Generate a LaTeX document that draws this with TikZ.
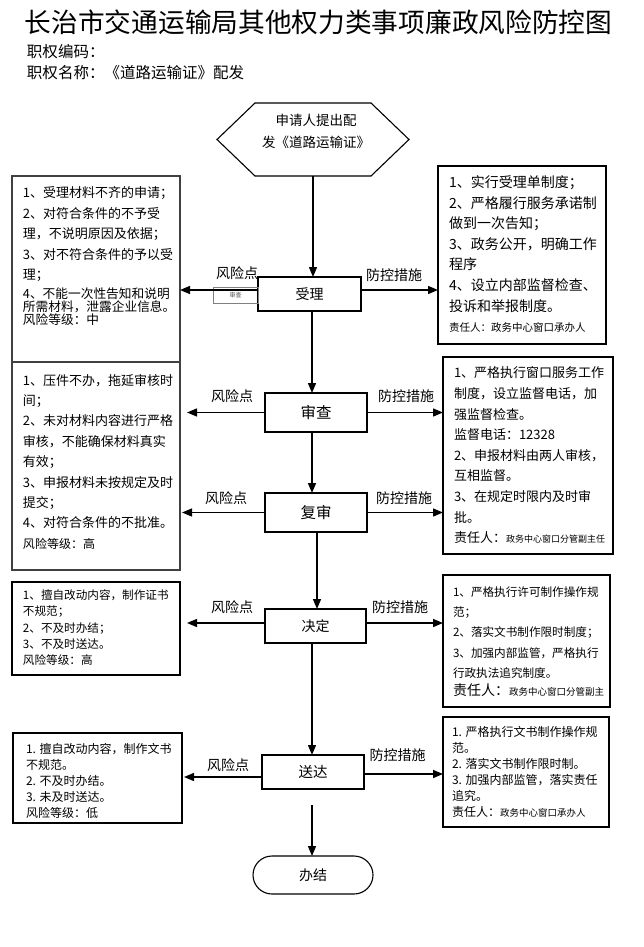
\documentclass[tikz,border=0pt]{standalone}
\usepackage{fontspec}
\setmainfont{Noto Sans CJK SC}
\usetikzlibrary{arrows.meta}
\newcommand{\myfs}[2]{\fontsize{#1}{#2}\selectfont\lineskiplimit=-100pt\relax}
\tikzset{
  every node/.style={inner sep=0pt, outer sep=0pt},
  proc/.style={draw, line width=1.1pt, rectangle},
  infobox/.style={draw, line width=1.1pt, rectangle},
  leftbox/.style={draw=black!75, line width=1.5pt, rectangle},
  txt/.style={anchor=north west, align=left},
  flow/.style={line width=1.4pt, -{Triangle[length=10pt,width=8pt]}},
  lbl/.style={font=\myfs{14}{14}},
}
\begin{document}
\begin{tikzpicture}[x=1pt,y=-1pt]
\fill[white] (0,0) rectangle (643,947);
\useasboundingbox (0,0) rectangle (643,947);

% title
\node[font=\myfs{26.7}{26.7}] (title) at (318.5,22) {长治市交通运输局其他权力类事项廉政风险防控图};
\node[anchor=west, font=\myfs{15.5}{15.5}] (code) at (27,52) {职权编码：};
\node[anchor=west, font=\myfs{15.5}{15.5}] (name) at (27,73) {职权名称：《道路运输证》配发};

% start hexagon
\node[minimum width=192pt, minimum height=73pt] (start) at (313,139.5) {};
\draw[line width=1.1pt] (start.west) -- ([xshift=38pt]start.north west) -- ([xshift=-38pt]start.north east) -- (start.east) -- ([xshift=-38pt]start.south east) -- ([xshift=38pt]start.south west) -- cycle;
\node[align=center, font=\myfs{13.5}{22}] (starttxt) at (316,131) {申请人提出配\\发《道路运输证》};

% process boxes
\node[proc, minimum width=103pt, minimum height=34pt, font=\myfs{14}{14}] (shouli) at (309.5,294) {受理};
\node[proc, minimum width=102pt, minimum height=39pt, font=\myfs{15.5}{15.5}] (shencha) at (316,412.5) {审查};
\node[proc, minimum width=102pt, minimum height=39pt, font=\myfs{15.5}{15.5}] (fushen) at (316,512.5) {复审};
\node[proc, minimum width=101pt, minimum height=34pt, font=\myfs{14}{14}] (jueding) at (315.5,626) {决定};
\node[proc, minimum width=102pt, minimum height=34pt, font=\myfs{14.5}{14.5}] (songda) at (313,772) {送达};
\node[proc, rounded corners=19pt, minimum width=120pt, minimum height=38pt, font=\myfs{14}{14}] (banjie) at (313,875) {办结};

% left boxes
\node[leftbox, minimum width=168pt, minimum height=186pt] (lbox1) at (96,269) {};
\node[leftbox, minimum width=168pt, minimum height=208pt] (lbox2) at (96,466) {};
\node[infobox, minimum width=168pt, minimum height=93pt] (lbox3) at (96,628.5) {};
\node[infobox, minimum width=169pt, minimum height=90pt] (lbox4) at (97.5,778) {};
% right boxes
\node[infobox, minimum width=168pt, minimum height=178pt] (rbox1) at (522,255) {};
\node[infobox, minimum width=170pt, minimum height=197pt] (rbox2) at (528,455.5) {};
\node[infobox, minimum width=167pt, minimum height=132pt] (rbox3) at (526.5,641) {};
\node[infobox, minimum width=166pt, minimum height=110pt] (rbox4) at (526,772) {};

% texts of left boxes
\node[txt, font=\myfs{13}{20.5}] (ltxt1) at (23,187) {1、受理材料不齐的申请；\\2、对符合条件的不予受\\理，不说明原因及依据；\\3、对不符合条件的予以受\\理；\\[-1.5pt]{\myfs{12.7}{12.7}4、不能一次性告知和说明}\\[-7.5pt]{\myfs{12.7}{12.7}所需材料，泄露企业信息。}\\[-7.5pt]{\myfs{12.7}{12.7}风险等级：中}};
\node[txt, font=\myfs{13}{20.4}] (ltxt2) at (23,374) {1、压件不办，拖延审核时\\间；\\2、未对材料内容进行严格\\审核，不能确保材料真实\\有效；\\3、申报材料未按规定及时\\提交；\\4、对符合条件的不批准。\\{\myfs{12}{12}风险等级：高}};
\node[txt, font=\myfs{11.6}{16.3}] (ltxt3) at (23,589.7) {1、擅自改动内容，制作证书\\不规范；\\2、不及时办结；\\3、不及时送达。\\风险等级：高};
\node[txt, font=\myfs{12}{16}] (ltxt4) at (26,743.5) {1. 擅自改动内容，制作文书\\不规范。\\2. 不及时办结。\\3. 未及时送达。\\风险等级：低};

% texts of right boxes
\node[txt, font=\myfs{14}{20.6}] (rtxt1) at (449,175.6) {1、实行受理单制度；\\2、严格履行服务承诺制\\做到一次告知；\\3、政务公开，明确工作\\程序\\4、设立内部监督检查、\\投诉和举报制度。\\{\myfs{10.5}{10.5}责任人：政务中心窗口承办人}};
\node[txt, font=\myfs{13}{20.6}] (rtxt2) at (454,367) {1、严格执行窗口服务工作\\制度，设立监督电话，加\\强监督检查。\\监督电话：12328\\2、申报材料由两人审核，\\互相监督。\\3、在规定时限内及时审\\批。\\责任人：{\myfs{9}{9}政务中心窗口分管副主任}};
\node[txt, font=\myfs{11.6}{20.2}] (rtxt3) at (453,586.7) {1、严格执行许可制作操作规\\范；\\2、落实文书制作限时制度；\\3、加强内部监管，严格执行\\行政执法追究制度。\\[-2pt]{\myfs{14}{14}责任人：}{\myfs{9.5}{9.5}政务中心窗口分管副主}};
\node[txt, font=\myfs{12}{16}] (rtxt4) at (452,726.5) {1. 严格执行文书制作操作规\\范。\\2. 落实文书制作限时制。\\3. 加强内部监管，落实责任\\追究。\\责任人：{\myfs{9.5}{9.5}政务中心窗口承办人}};

% small gray box
\node[draw=gray, line width=0.8pt, minimum width=45pt, minimum height=16pt, font=\myfs{6}{6}, text=black!70] (tag) at (235.5,295) {审查};

% vertical flow
\draw[flow] (start.south) -- (start.south |- shouli.north);
\draw[flow] ([xshift=2.5pt]shouli.south) -- ([xshift=2.5pt]shouli.south |- shencha.north);
\draw[flow] ([xshift=-4pt]shencha.south) -- ([xshift=-4pt]shencha.south |- fushen.north);
\draw[flow] ([xshift=1pt]fushen.south) -- ([xshift=1pt]fushen.south |- jueding.north);
\draw[flow] ([xshift=-3.5pt]jueding.south) -- ([xshift=-3.5pt]jueding.south |- songda.north);
\coordinate (songdaout) at ([xshift=-1pt,yshift=-16pt]songda.south);
\draw[flow] (songdaout) -- (songdaout |- banjie.north);

% horizontal arrows
\draw[flow] ([yshift=4pt]shouli.west) -- ([yshift=4pt]shouli.west -| lbox1.east);
\draw[flow] ([yshift=4pt]shouli.east) -- ([yshift=4pt]shouli.east -| rbox1.west);
\draw[flow] (shencha.west) -- ([xshift=7pt]shencha.west -| lbox2.east);
\draw[flow] (shencha.east) -- (shencha.east -| rbox2.west);
\draw[flow] (fushen.west) -- ([xshift=2pt]fushen.west -| lbox2.east);
\draw[flow] (fushen.east) -- (fushen.east -| rbox2.west);
\draw[flow] ([yshift=3pt]jueding.west) -- ([xshift=7pt,yshift=3pt]jueding.west -| lbox3.east);
\draw[flow] ([yshift=3pt]jueding.east) -- ([yshift=3pt]jueding.east -| rbox3.west);
\draw[flow] ([yshift=-5pt]songda.west) -- ([xshift=2pt,yshift=-5pt]songda.west -| lbox4.east);
\draw[flow] ([yshift=-2pt]songda.east) -- ([yshift=-2pt]songda.east -| rbox4.west);

% labels
\node[lbl] (r1) at (237,273) {风险点};
\node[lbl] (p1) at (394,275) {防控措施};
\node[lbl] (r2) at (232,396) {风险点};
\node[lbl] (p2) at (406,396) {防控措施};
\node[lbl] (r3) at (226,498) {风险点};
\node[lbl] (p3) at (404,498) {防控措施};
\node[lbl] (r4) at (232,607) {风险点};
\node[lbl] (p4) at (400,607) {防控措施};
\node[lbl] (r5) at (228,765) {风险点};
\node[lbl] (p5) at (397.5,755) {防控措施};
\end{tikzpicture}
\end{document}
